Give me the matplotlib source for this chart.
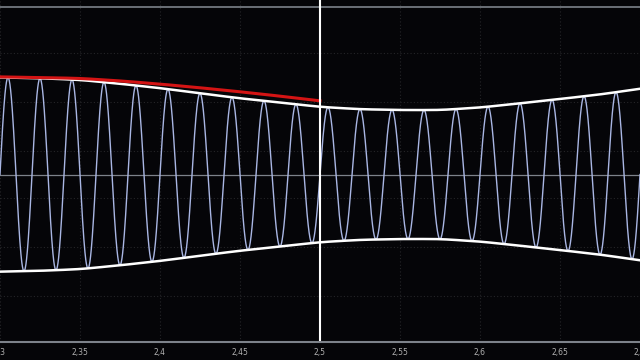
import matplotlib.pyplot as plt
import numpy as np

# 데이터
env_t = [2.3, 2.325, 2.35, 2.375, 2.4, 2.425, 2.45, 2.475, 2.5,
         2.525, 2.55, 2.575, 2.6, 2.625, 2.65, 2.675, 2.7]
env_amp = [0.58, 0.575, 0.565, 0.542, 0.516, 0.485, 0.455, 0.43, 0.404,
           0.39, 0.385, 0.385, 0.40, 0.425, 0.451, 0.478, 0.512]

red_t = [2.3, 2.325, 2.35, 2.375, 2.4, 2.425, 2.45, 2.475, 2.5]
red_amp = [0.583, 0.579, 0.574, 0.559, 0.540, 0.518, 0.494, 0.468, 0.44]

carrier_freq = 50  # Hz
cursor_t = 2.5

tick_vals = [2.3, 2.35, 2.4, 2.45, 2.5, 2.55, 2.6, 2.65, 2.7]
tick_labels = ['2,3', '2,35', '2,4', '2,45', '2,5', '2,55', '2,6', '2,65', '2,7']
grid_y = [0.725, 0.432, 0.142, -0.142, -0.432, -0.725]


def smooth_curve(tt, xs, ys, win=151):
    # 꺾인 부분을 부드럽게 (렌더링용)
    yy = np.interp(tt, xs, ys)
    pad = win // 2
    yp = np.concatenate([np.full(pad, yy[0]) + (yy[0] - yy[pad:0:-1]),
                         yy,
                         np.full(pad, yy[-1]) + (yy[-1] - yy[-2:-pad - 2:-1])])
    k = np.ones(win) / win
    return np.convolve(yp, k, mode='valid')


# 신호
t = np.linspace(2.3, 2.7, 4001)
env = smooth_curve(t, env_t, env_amp)
signal = env * np.sin(2 * np.pi * carrier_freq * t)

tr = np.linspace(red_t[0], red_t[-1], 2001)
red = smooth_curve(tr, red_t, red_amp)

fig = plt.figure(figsize=(6.4, 3.6), dpi=100, facecolor='#050508')
ax = fig.add_axes([0, 0.05, 1, 0.95])
ax.set_facecolor('#050508')

# 그리드
for gy in grid_y:
    ax.axhline(gy, color='#252528', linestyle=(0, (1, 2)), linewidth=0.8)
for tv in tick_vals:
    ax.axvline(tv, color='#252528', linestyle=(0, (1, 2)), linewidth=0.8)
ax.axhline(0, color='#7d828a', linewidth=0.9)
ax.axhline(1.0, color='#7d828a', linewidth=1.2)

ax.plot(t, signal, color='#a9b6e3', linewidth=1.0)
ax.plot(t, env, color='white', linewidth=1.8)
ax.plot(t, -env, color='white', linewidth=1.8)
ax.plot(tr, red, color='#d41414', linewidth=2.2)

ax.axvline(cursor_t, color='white', linewidth=1.5)

ax.set_xlim(2.3, 2.7)
ax.set_ylim(-1.0, 1.042)
ax.set_xticks(tick_vals)
ax.set_xticklabels(tick_labels)
ax.set_yticks([])
ax.tick_params(axis='x', colors='#b0b0b0', labelsize=5.5, length=0, pad=4)

for side in ['top', 'right', 'left']:
    ax.spines[side].set_visible(False)
ax.spines['bottom'].set_color('#7d828a')
ax.spines['bottom'].set_linewidth(1.5)

plt.savefig('out.png', dpi=100, facecolor=fig.get_facecolor())
plt.close()
